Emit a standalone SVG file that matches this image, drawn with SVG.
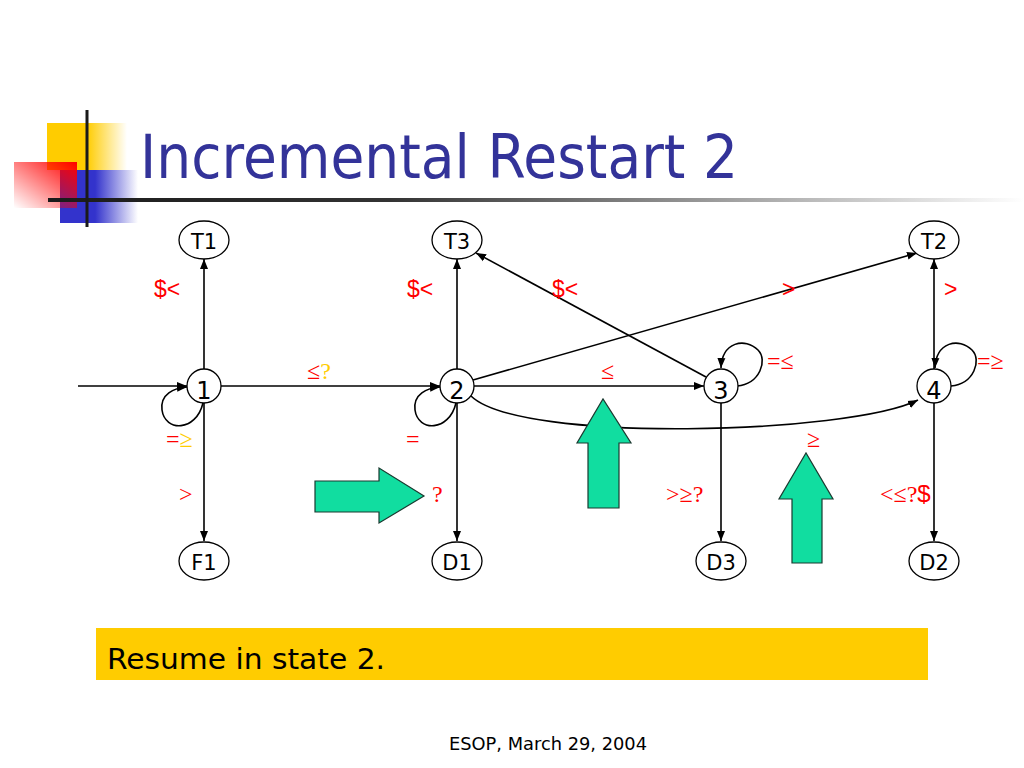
<svg xmlns="http://www.w3.org/2000/svg" width="1024" height="768" viewBox="0 0 1024 768">
<defs>
<marker id="ah" viewBox="0 0 10 10" refX="10" refY="5" markerWidth="10" markerHeight="10" markerUnits="userSpaceOnUse" orient="auto"><path d="M0,1 L10,5 L0,9 z" fill="#000"/></marker>
<linearGradient id="gY" x1="0" y1="0" x2="1" y2="0"><stop offset="0" stop-color="#FFCC00"/><stop offset="0.5" stop-color="#FFCC00"/><stop offset="1" stop-color="#FFCC00" stop-opacity="0"/></linearGradient>
<linearGradient id="gB" x1="0" y1="0" x2="1" y2="0"><stop offset="0" stop-color="#3333CC"/><stop offset="0.45" stop-color="#3333CC"/><stop offset="1" stop-color="#3333CC" stop-opacity="0"/></linearGradient>
<linearGradient id="gR" x1="0" y1="1" x2="1" y2="0"><stop offset="0" stop-color="#FF0000" stop-opacity="0"/><stop offset="1" stop-color="#FF0000"/></linearGradient>
<linearGradient id="gL" x1="0" y1="0" x2="1" y2="0"><stop offset="0" stop-color="#1a1a1a"/><stop offset="0.35" stop-color="#333"/><stop offset="1" stop-color="#fff"/></linearGradient>
<style>
.e{fill:none;stroke:#000;stroke-width:1.6;marker-end:url(#ah)}
.n{fill:#fff;stroke:#000;stroke-width:1.3}
.nl{font-family:"DejaVu Sans","Liberation Sans",sans-serif;font-size:21px;fill:#000;text-anchor:middle}
.dl{font-family:"DejaVu Sans","Liberation Sans",sans-serif;font-size:24px;fill:#000;text-anchor:middle}
.s{font-family:"Liberation Serif",serif;font-size:24px;fill:#FF0000}
.ss{font-family:"Liberation Sans",sans-serif;font-size:23px;fill:#FF0000}
.y{fill:#FFCC00}
.ga{fill:#11DDA0;stroke:#1a3a30;stroke-width:1.2}
</style>
</defs>
<rect width="1024" height="768" fill="#fff"/>
<g id="logo">
<rect x="47" y="123" width="80" height="47" fill="url(#gY)"/>
<rect x="60" y="170" width="78" height="53" fill="url(#gB)"/>
<rect x="14" y="162" width="63" height="46" fill="url(#gR)"/>
<rect x="48" y="198" width="976" height="4" fill="url(#gL)"/>
<rect x="85.5" y="110" width="3" height="117" fill="#1a1a1a"/>
</g>
<text id="title" x="140" y="178" font-family="DejaVu Sans, Liberation Sans, sans-serif" font-size="61" fill="#333399" textLength="598" lengthAdjust="spacingAndGlyphs">Incremental Restart 2</text>
<g id="connectors">
<path class="e" d="M78,386 L187,386"/>
<path class="e" d="M204,369 L204,259"/>
<path class="e" d="M204,403 L204,541"/>
<path class="e" d="M221,386 L440,386"/>
<path class="e" d="M203,403 C196,432 165,432 162,410 C160,394 174,388 187,387"/>
<path class="e" d="M457,369 L457,259"/>
<path class="e" d="M457,403 L457,541"/>
<path class="e" d="M456,403 C449,432 418,432 415,410 C413,394 427,388 440,387"/>
<path class="e" d="M474,386 L704,386"/>
<path class="e" d="M473,380 L917,253"/>
<path class="e" d="M706,377 L476,253"/>
<path class="e" d="M471,396 C520,444 850,434 918,400"/>
<path class="e" d="M737,386 C760,384 768,360 758,350 C745,337 722,342 721,368"/>
<path class="e" d="M721,403 L721,541"/>
<path class="e" d="M934,369 L934,259"/>
<path class="e" d="M951,386 C974,384 982,360 972,350 C959,337 936,342 935,368"/>
<path class="e" d="M934,403 L934,541"/>
</g>
<g id="edge-labels">
<text class="ss" x="154" y="297">$&lt;</text>
<text class="s" x="307" y="379">≤<tspan class="y">?</tspan></text>
<text class="s" x="166" y="447">=<tspan class="y">≥</tspan></text>
<text class="s" x="179" y="502">&gt;</text>
<text class="ss" x="407" y="297">$&lt;</text>
<text class="ss" x="552" y="297">$&lt;</text>
<text class="ss" x="782" y="297">&gt;</text>
<text class="s" x="601" y="379">≤</text>
<text class="s" x="767" y="369">=≤</text>
<text class="ss" x="944" y="297">&gt;</text>
<text class="s" x="977" y="369">=≥</text>
<text class="s" x="406" y="447">=</text>
<text class="s" x="432" y="502">?</text>
<text class="s" x="807" y="447">≥</text>
<text class="s" x="666" y="502">&gt;≥?</text>
<text class="s" x="880" y="502">&lt;≤?<tspan font-family="Liberation Sans, sans-serif">$</tspan></text>
</g>
<g id="node-T1"><ellipse class="n" cx="204" cy="240" rx="25" ry="19"/><text class="nl" x="204" y="249">T1</text></g>
<g id="node-T3"><ellipse class="n" cx="457" cy="240" rx="25" ry="19"/><text class="nl" x="457" y="249">T3</text></g>
<g id="node-T2"><ellipse class="n" cx="934" cy="240" rx="25" ry="19"/><text class="nl" x="934" y="249">T2</text></g>
<g id="node-1"><circle class="n" cx="204" cy="386" r="17"/><text class="dl" x="204" y="399">1</text></g>
<g id="node-2"><circle class="n" cx="457" cy="386" r="17"/><text class="dl" x="457" y="399">2</text></g>
<g id="node-3"><circle class="n" cx="721" cy="386" r="17"/><text class="dl" x="721" y="399">3</text></g>
<g id="node-4"><circle class="n" cx="934" cy="386" r="17"/><text class="dl" x="934" y="399">4</text></g>
<g id="node-F1"><ellipse class="n" cx="204" cy="561" rx="25" ry="19"/><text class="nl" x="204" y="570">F1</text></g>
<g id="node-D1"><ellipse class="n" cx="457" cy="561" rx="25" ry="19"/><text class="nl" x="457" y="570">D1</text></g>
<g id="node-D3"><ellipse class="n" cx="721" cy="561" rx="25" ry="19"/><text class="nl" x="721" y="570">D3</text></g>
<g id="node-D2"><ellipse class="n" cx="934" cy="561" rx="25" ry="19"/><text class="nl" x="934" y="570">D2</text></g>
<g id="pointers">
<path class="ga" d="M315,481 L379,481 L379,468 L424,496 L379,523 L379,512 L315,512 Z"/>
<path class="ga" d="M588,508 L588,443 L577,443 L603,399 L631,443 L619,443 L619,508 Z"/>
<path class="ga" d="M792,563 L792,499 L779,499 L806,453 L833,499 L822,499 L822,563 Z"/>
</g>
<g id="note">
<rect x="96" y="628" width="832" height="52" fill="#FFCC00"/>
<text x="107" y="669" font-family="DejaVu Sans, Liberation Sans, sans-serif" font-size="29" fill="#000" textLength="278" lengthAdjust="spacingAndGlyphs">Resume in state 2.</text>
</g>
<text id="footer" x="548" y="750" font-family="DejaVu Sans, Liberation Sans, sans-serif" font-size="17" fill="#000" text-anchor="middle" textLength="198" lengthAdjust="spacingAndGlyphs">ESOP, March 29, 2004</text>
</svg>
